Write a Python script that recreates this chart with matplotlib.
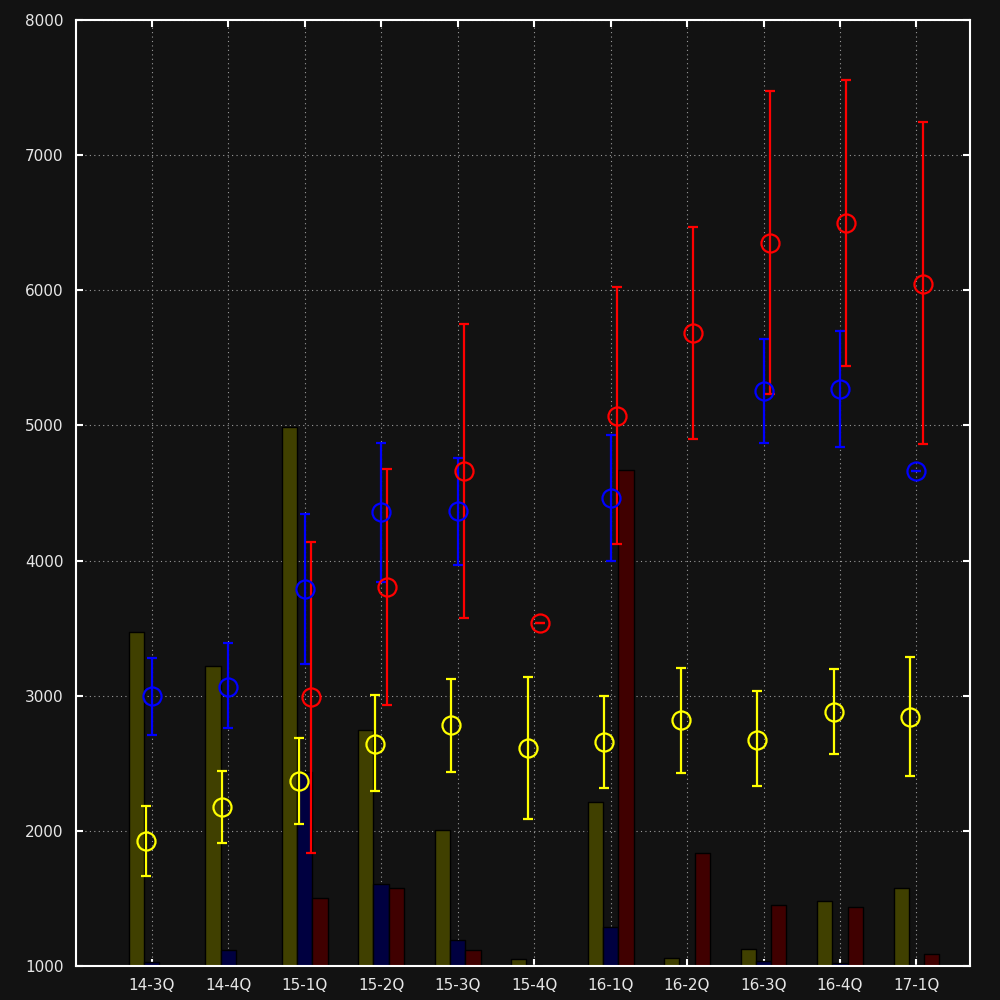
import numpy as np
import matplotlib
matplotlib.use("Agg")
import matplotlib.pyplot as plt

quarters = ["14-3Q", "14-4Q", "15-1Q", "15-2Q", "15-3Q", "15-4Q",
            "16-1Q", "16-2Q", "16-3Q", "16-4Q", "17-1Q"]

# bar series
bar_yellow = [3475, 3220, 4990, 2746, 2006, 1052, 2214, 1059, 1126, 1481, 1577]
bar_blue = [1030, 1118, 2435, 1607, 1192, 1008, 1289, np.nan, 1037, 1022, 1007]
bar_red = [np.nan, np.nan, 1503, 1577, 1118, np.nan, 4670, 1836, 1451, 1437, 1089]

# point series with ranges (center, low, high)
yel_mid = [1925, 2177, 2369, 2643, 2783, 2613, 2657, 2820, 2672, 2880, 2843]
yel_lo = [1666, 1910, 2051, 2295, 2436, 2088, 2317, 2428, 2332, 2569, 2406]
yel_hi = [2184, 2443, 2687, 3005, 3124, 3138, 2998, 3205, 3035, 3198, 3287]

blu_mid = [2995, 3065, 3790, 4362, 4367, np.nan, 4463, np.nan, 5255, 5270, 4660]
blu_lo = [2709, 2761, 3235, 3841, 3967, np.nan, 3997, np.nan, 4870, 4840, 4660]
blu_hi = [3279, 3390, 4345, 4870, 4759, np.nan, 4929, np.nan, 5640, 5699, 4660]

red_mid = [np.nan, np.nan, 2991, 3805, 4663, 3538, 5070, 5684, 6350, 6498, 6047]
red_lo = [np.nan, np.nan, 1836, 2931, 3575, 3538, 4123, 4900, 5233, 5440, 4863]
red_hi = [np.nan, np.nan, 4137, 4678, 5751, 3538, 6024, 6468, 7475, 7556, 7244]

bg = "#121212"
fig = plt.figure(figsize=(10, 10), dpi=100, facecolor=bg)
ax = fig.add_axes([0.076, 0.034, 0.894, 0.946], facecolor=bg)

x = np.arange(len(quarters))
w = 0.2
ax.bar(x - w, bar_yellow, w, color="#404000", edgecolor="black", linewidth=1, zorder=2)
ax.bar(x, bar_blue, w, color="#000040", edgecolor="black", linewidth=1, zorder=2)
ax.bar(x + w, bar_red, w, color="#400000", edgecolor="black", linewidth=1, zorder=2)


def draw_points(dx, mid, lo, hi, color):
    mid = np.array(mid, dtype=float)
    err = [mid - np.array(lo, dtype=float), np.array(hi, dtype=float) - mid]
    ax.errorbar(x + dx, mid, yerr=err, fmt="o", color=color, ecolor=color,
                mfc="none", mec=color, ms=13, mew=1.6, elinewidth=1.6,
                capsize=3.5, capthick=1.6, zorder=3)


draw_points(-0.08, yel_mid, yel_lo, yel_hi, "#ffff00")
draw_points(0.0, blu_mid, blu_lo, blu_hi, "#0000ff")
draw_points(0.08, red_mid, red_lo, red_hi, "#ff0000")

ax.set_xlim(-0.99, 10.7)
ax.set_ylim(1000, 8000)
ax.set_xticks(x)
ax.set_xticklabels(quarters)
ax.set_yticks(range(1000, 8001, 1000))
ax.grid(True, color="#9a9a9a", linestyle=(0, (1, 3)), linewidth=0.8, zorder=0)
ax.set_axisbelow(True)

for s in ax.spines.values():
    s.set_color("white")
    s.set_linewidth(1.5)
ax.tick_params(direction="in", length=5, width=1.5, color="white",
               labelcolor="#e6e6e6", labelsize=11, top=True, right=True, pad=9)

plt.savefig("out.png", facecolor=bg)
